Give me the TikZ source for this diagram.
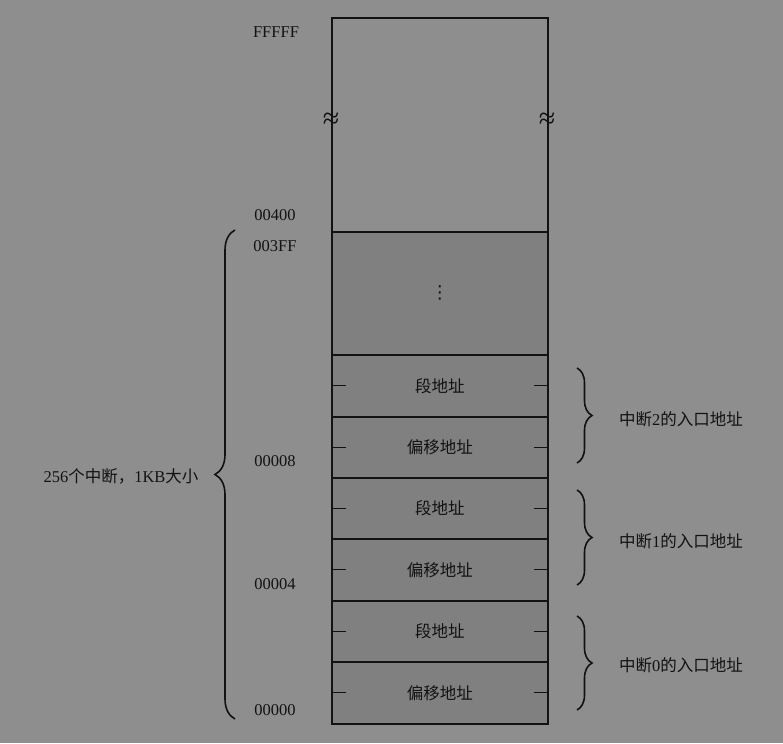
\documentclass[tikz,border=0pt]{standalone}
\usepackage{fontspec}
\setmainfont{Liberation Serif}
\newfontfamily\cjk{Noto Sans CJK SC}
\newfontfamily\symf{DejaVu Sans}
\usetikzlibrary{decorations.pathreplacing}
\definecolor{bgc}{RGB}{142,142,142}
\definecolor{cellc}{RGB}{128,128,128}
\definecolor{ink}{RGB}{18,18,18}
\tikzset{
  cell/.style={draw=ink, line width=1.6pt, fill=cellc, minimum width=216pt, inner sep=0pt, anchor=north west, font=\fontsize{16.5}{16.5}\selectfont\cjk, text=ink},
  addr/.style={font=\fontsize{16.5}{17}\selectfont, text=ink, inner sep=0pt},
  lbl/.style={font=\fontsize{16.5}{17}\selectfont, text=ink, inner sep=0pt},
  tick/.style={draw=ink, line width=1.3pt},
  brcL/.style={draw=ink, line width=1.6pt, decorate, decoration={brace, amplitude=20pt}},
  brcR/.style={draw=ink, line width=1.6pt, decorate, decoration={brace, amplitude=15pt}},
  brk/.style={font=\fontsize{30}{30}\selectfont, text=ink, inner sep=0pt},
}
\begin{document}
\begin{tikzpicture}[x=1pt,y=-1pt]
\useasboundingbox[fill=bgc] (0,0) rectangle (783,743);
% upper region
\node[cell, fill=bgc, minimum height=214pt] (top) at (331,17) {};
\node[cell, minimum height=123pt] (dots) at (331,231) {};
\node[font=\fontsize{18}{18}\selectfont\symf, text=ink, inner sep=0pt] (vd) at (dots.center) {⋮};
\node[cell, minimum height=62pt] (s2) at (331,354) {段地址};
\node[cell, minimum height=61pt] (o2) at (331,416) {偏移地址};
\node[cell, minimum height=61pt] (s1) at (331,477) {段地址};
\node[cell, minimum height=62pt] (o1) at (331,538) {偏移地址};
\node[cell, minimum height=61pt] (s0) at (331,600) {段地址};
\node[cell, minimum height=62pt] (o0) at (331,661) {偏移地址};
% ticks
\foreach \n in {s2,o2,s1,o1,s0,o0}{
  \draw[tick] (\n.west) -- ++(15,0);
  \draw[tick] (\n.east) -- ++(-15,0);
}
% break marks
\node[brk] (brkL) at (331,121) {≈};
\node[brk] (brkR) at (547,121) {≈};
% addresses
\node[addr] (aF) at (276,32) {FFFFF};
\node[addr] (a400) at (275,215) {00400};
\node[addr] (a3FF) at (275,246) {003FF};
\node[addr] (a8) at (275,461) {00008};
\node[addr] (a4) at (275,584) {00004};
\node[addr] (a0) at (275,710) {00000};
% left brace
\coordinate (lbB) at (235,719);
\coordinate (lbT) at (235,230);
\draw[brcL] (lbB) -- (lbT);
\node[lbl] (ltxt) at (121,476) {256{\cjk 个中断，}1KB{\cjk 大小}};
% right braces
\coordinate (r2T) at (577,368);
\coordinate (r2B) at (577,463);
\coordinate (r1T) at (577,490);
\coordinate (r1B) at (577,585);
\coordinate (r0T) at (577,616);
\coordinate (r0B) at (577,710);
\draw[brcR] (r2T) -- (r2B);
\draw[brcR] (r1T) -- (r1B);
\draw[brcR] (r0T) -- (r0B);
\node[lbl] (t2) at (681,419) {{\cjk 中断}2{\cjk 的入口地址}};
\node[lbl] (t1) at (681,541) {{\cjk 中断}1{\cjk 的入口地址}};
\node[lbl] (t0) at (681,665) {{\cjk 中断}0{\cjk 的入口地址}};
\end{tikzpicture}
\end{document}
